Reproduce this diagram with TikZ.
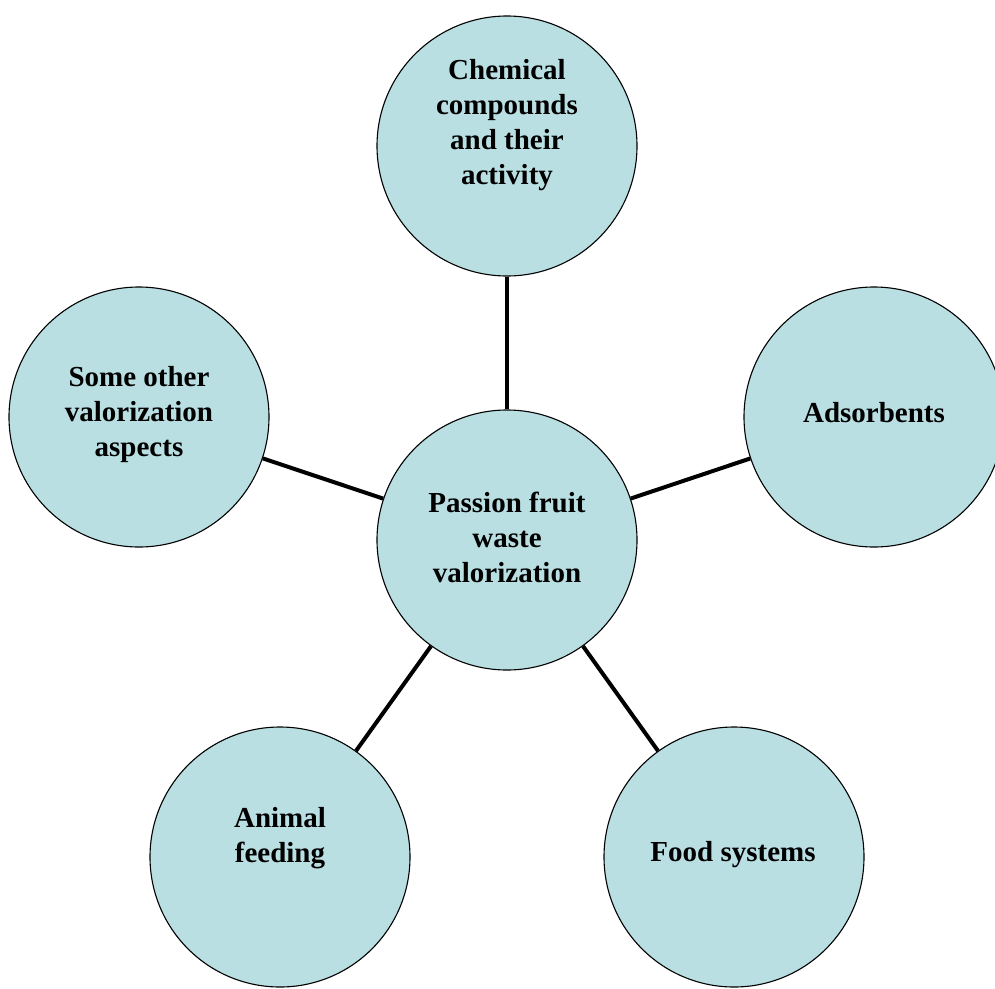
\documentclass[tikz,border=0pt]{standalone}
\usepackage{fontspec}
\setmainfont{Liberation Serif}
\definecolor{bubble}{HTML}{B9DFE3}
\begin{document}
\begin{tikzpicture}[x=1pt,y=-1pt,
  bubble/.style={circle,draw=black,line width=1.1pt,fill=bubble,minimum size=260pt,inner sep=0pt},
  txt/.style={align=center,font=\fontsize{29}{35}\selectfont\bfseries,inner sep=0pt},
  link/.style={line width=4pt,draw=black}]
\useasboundingbox (0,0) rectangle (995,988);
\node[bubble] (c) at (507,540) {};
\node[bubble] (t) at (507,146) {};
\node[bubble] (l) at (139,417) {};
\node[bubble] (r) at (874,417) {};
\node[bubble] (bl) at (280,857) {};
\node[bubble] (br) at (734,857) {};
\foreach \a in {t,l,r,bl,br} \draw[link] (c) -- (\a);
\node[txt] (ct) at (507,537) {Passion fruit\\waste\\valorization};
\node[txt] (tt) at (507,125) {Chemical\\compounds\\and their\\activity};
\node[txt] (lt) at (139,415) {Some other\\valorization\\aspects};
\node[txt] (rt) at (874,413) {Adsorbents};
\node[txt] (blt) at (280,838) {Animal\\feeding};
\node[txt] (brt) at (733,855) {Food systems};
\end{tikzpicture}
\end{document}
